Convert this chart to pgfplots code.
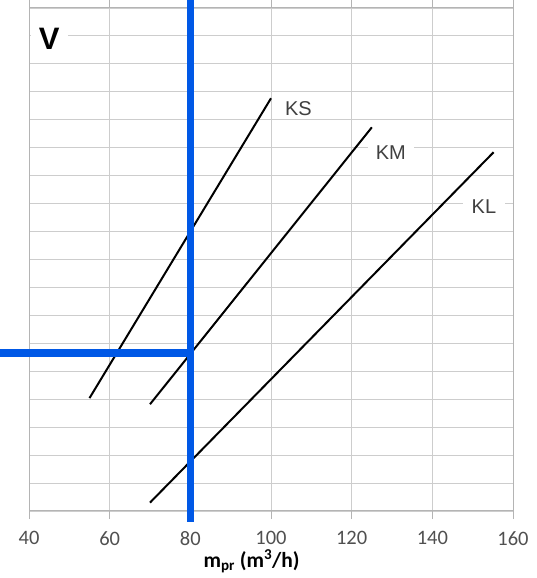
\documentclass[border=0pt]{standalone}
\usepackage{fontspec}
\setmainfont{Carlito}
\newfontfamily\arialf{Liberation Sans}
\usepackage{pgfplots}
\pgfplotsset{compat=1.18}
\definecolor{gridc}{RGB}{205,205,205}
\definecolor{axc}{RGB}{180,180,180}
\definecolor{tickc}{RGB}{80,80,80}
\definecolor{labc}{RGB}{64,64,64}
\definecolor{blueL}{RGB}{0,88,230}
\begin{document}
\begin{tikzpicture}
\begin{axis}[
  scale only axis, width=484pt, height=503pt,
  xmin=40, xmax=160, ymin=0, ymax=18,
  xtick={40,60,...,160}, ytick={0,1,...,18}, yticklabels={},
  grid=major, major grid style={gridc, line width=0.9pt},
  axis line style={axc, line width=1pt},
  xtick align=outside, major tick length=8pt,
  xtick style={axc, line width=1pt}, ytick style={draw=none},
  xticklabel style={font=\fontsize{20.5}{24}\selectfont, text=tickc, yshift=-9pt},
  /pgf/number format/assume math mode=true,
  clip=false,
]
\coordinate (bl) at (rel axis cs:0,0);
\coordinate (tr) at (rel axis cs:1,1);
% KS, KM, KL characteristic lines
\addplot[black, line width=2pt] coordinates {(55,4.04) (100,14.77)};
\addplot[black, line width=2pt] coordinates {(70,3.82) (125,13.73)};
\addplot[black, line width=2pt] coordinates {(70,0.30) (155.2,12.84)};
% blue reading lines
\addplot[blueL, line width=7.5pt] coordinates {(80,18.29) (80,-0.39)};
\addplot[blueL, line width=7.5pt] coordinates {(32.8,5.65) (80,5.65)};
% labels
\node[fill=white, inner xsep=8pt, inner ysep=2pt, text=labc, font=\arialf\fontsize{20}{20}\selectfont] at (axis cs:106.8,14.39) {KS};
\node[fill=white, inner xsep=8pt, inner ysep=2pt, text=labc, font=\arialf\fontsize{20}{20}\selectfont] at (axis cs:129.7,12.81) {KM};
\node[fill=white, inner xsep=9pt, inner ysep=2pt, text=labc, font=\arialf\fontsize{20}{20}\selectfont] at (axis cs:152.8,10.88) {KL};
\node[fill=white, inner xsep=8pt, inner ysep=3pt, text=black, font=\arialf\bfseries\fontsize{31}{31}\selectfont] at (axis cs:45,16.9) {V};
\node[text=black, font=\bfseries\fontsize{21.5}{24}\selectfont] at (axis cs:95.2,-1.8) {m\textsubscript{pr} (m\textsuperscript{3}/h)};
\end{axis}
\pgfresetboundingbox
\path[use as bounding box] ([shift={(-29pt,-67pt)}]bl) rectangle ([shift={(24pt,8pt)}]tr);
\end{tikzpicture}
\end{document}
